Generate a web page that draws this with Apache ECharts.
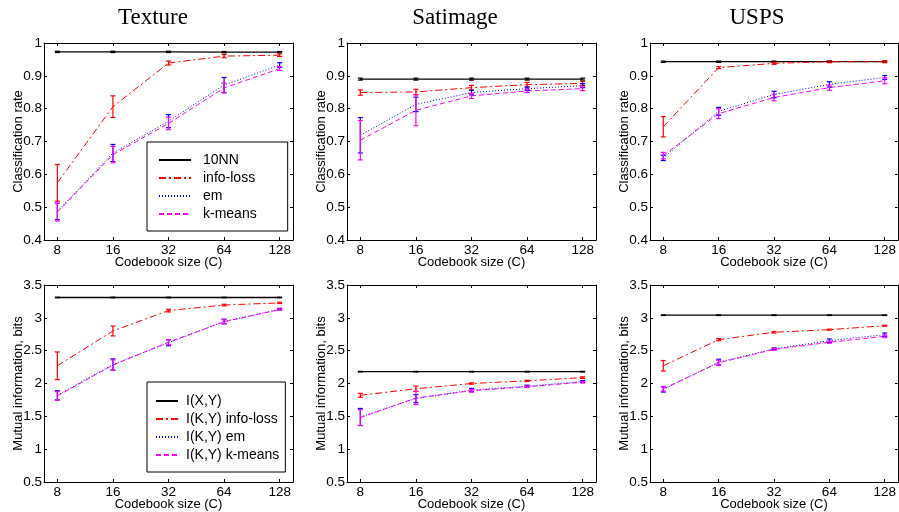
<!DOCTYPE html>
<html>
<head>
<meta charset="utf-8">
<script src="https://cdn.jsdelivr.net/npm/echarts@6/dist/echarts.min.js"></script>
<style>
  html, body { margin: 0; padding: 0; background: #fff; }
  #chart-container { width: 899px; height: 512px; }
</style>
</head>
<body>
<div id="chart-container"></div>
<script>
// codebook sizes (x axis, log2 spaced)
const codebookSizes = [8, 16, 32, 64, 128];

// --- classification rate ---
const texRate10nn = [0.973, 0.973, 0.973, 0.972, 0.972];
const texRate10nnErr = [0.002, 0.002, 0.002, 0.002, 0.002];
const texRateInfo = [0.574, 0.806, 0.939, 0.960, 0.963];
const texRateInfoErr = [0.056, 0.033, 0.006, 0.005, 0.004];
const texRateEm = [0.487, 0.665, 0.762, 0.872, 0.933];
const texRateEmErr = [0.025, 0.026, 0.020, 0.023, 0.007];
const texRateKm = [0.485, 0.660, 0.755, 0.863, 0.922];
const texRateKmErr = [0.027, 0.025, 0.019, 0.015, 0.006];

const satRate10nn = [0.890, 0.890, 0.890, 0.890, 0.890];
const satRate10nnErr = [0.003, 0.003, 0.003, 0.003, 0.003];
const satRateInfo = [0.849, 0.851, 0.864, 0.873, 0.877];
const satRateInfoErr = [0.008, 0.008, 0.007, 0.007, 0.006];
const satRateEm = [0.719, 0.813, 0.849, 0.861, 0.870];
const satRateEmErr = [0.054, 0.022, 0.007, 0.005, 0.006];
const satRateKm = [0.704, 0.795, 0.839, 0.854, 0.861];
const satRateKmErr = [0.060, 0.047, 0.008, 0.005, 0.006];

const uspsRate10nn = [0.943, 0.943, 0.943, 0.943, 0.943];
const uspsRate10nnErr = [0.002, 0.002, 0.002, 0.002, 0.002];
const uspsRateInfo = [0.745, 0.925, 0.938, 0.943, 0.943];
const uspsRateInfoErr = [0.031, 0.003, 0.003, 0.003, 0.003];
const uspsRateEm = [0.650, 0.792, 0.843, 0.874, 0.895];
const uspsRateEmErr = [0.008, 0.012, 0.010, 0.008, 0.006];
const uspsRateKm = [0.657, 0.785, 0.834, 0.864, 0.885];
const uspsRateKmErr = [0.010, 0.015, 0.010, 0.008, 0.009];

// --- mutual information ---
const texMiXY = [3.31, 3.31, 3.31, 3.31, 3.31];
const texMiXYErr = [0.005, 0.005, 0.005, 0.005, 0.005];
const texMiInfo = [2.27, 2.80, 3.11, 3.195, 3.228];
const texMiInfoErr = [0.21, 0.075, 0.02, 0.012, 0.01];
const texMiEm = [1.82, 2.29, 2.62, 2.945, 3.132];
const texMiEmErr = [0.07, 0.085, 0.045, 0.035, 0.012];
const texMiKm = [1.81, 2.28, 2.63, 2.94, 3.125];
const texMiKmErr = [0.065, 0.08, 0.04, 0.03, 0.01];

const satMiXY = [2.18, 2.18, 2.18, 2.18, 2.18];
const satMiXYErr = [0.005, 0.005, 0.005, 0.005, 0.005];
const satMiInfo = [1.82, 1.92, 2.00, 2.04, 2.09];
const satMiInfoErr = [0.03, 0.04, 0.01, 0.01, 0.012];
const satMiEm = [1.49, 1.77, 1.90, 1.96, 2.03];
const satMiEmErr = [0.13, 0.06, 0.025, 0.015, 0.015];
const satMiKm = [1.48, 1.78, 1.89, 1.95, 2.02];
const satMiKmErr = [0.12, 0.10, 0.02, 0.012, 0.012];

const uspsMiXY = [3.04, 3.04, 3.04, 3.04, 3.04];
const uspsMiXYErr = [0.005, 0.005, 0.005, 0.005, 0.005];
const uspsMiInfo = [2.27, 2.668, 2.78, 2.82, 2.88];
const uspsMiInfoErr = [0.08, 0.015, 0.012, 0.008, 0.008];
const uspsMiEm = [1.91, 2.325, 2.527, 2.653, 2.744];
const uspsMiEmErr = [0.04, 0.045, 0.015, 0.025, 0.025];
const uspsMiKm = [1.92, 2.315, 2.52, 2.628, 2.718];
const uspsMiKmErr = [0.035, 0.04, 0.015, 0.015, 0.02];

const titles = ['Texture', 'Satimage', 'USPS'];
const rateNames = ['10NN', 'info-loss', 'em', 'k-means'];
const miNames = ['I(X,Y)', 'I(K,Y) info-loss', 'I(K,Y) em', 'I(K,Y) k-means'];

const panels = [
  { means: [texRate10nn, texRateInfo, texRateEm, texRateKm], errs: [texRate10nnErr, texRateInfoErr, texRateEmErr, texRateKmErr], names: rateNames },
  { means: [satRate10nn, satRateInfo, satRateEm, satRateKm], errs: [satRate10nnErr, satRateInfoErr, satRateEmErr, satRateKmErr], names: rateNames },
  { means: [uspsRate10nn, uspsRateInfo, uspsRateEm, uspsRateKm], errs: [uspsRate10nnErr, uspsRateInfoErr, uspsRateEmErr, uspsRateKmErr], names: rateNames },
  { means: [texMiXY, texMiInfo, texMiEm, texMiKm], errs: [texMiXYErr, texMiInfoErr, texMiEmErr, texMiKmErr], names: miNames },
  { means: [satMiXY, satMiInfo, satMiEm, satMiKm], errs: [satMiXYErr, satMiInfoErr, satMiEmErr, satMiKmErr], names: miNames },
  { means: [uspsMiXY, uspsMiInfo, uspsMiEm, uspsMiKm], errs: [uspsMiXYErr, uspsMiInfoErr, uspsMiEmErr, uspsMiKmErr], names: miNames }
];

// layout (px): left, top, width, height
const boxes = [
  [44, 43, 249, 197], [347, 43, 249, 197], [650, 43, 251, 197],
  [44, 285, 249, 198], [347, 285, 249, 198], [650, 285, 251, 198]
];
const colors = ['#000000', '#ff0000', '#0000ff', '#ff00ff'];
const dashes = ['solid', [7, 3, 2, 3], [1, 2], [5, 3]];
const xTicks = codebookSizes.map(c => Math.log2(c));
const pad = 0.24;
const FONT = 'Liberation Sans, Arial, Helvetica, sans-serif';

const grid = [], xAxis = [], yAxis = [], series = [], legend = [], title = [];

panels.forEach((p, i) => {
  const b = boxes[i];
  const top = i < 3;
  grid.push({ left: b[0], top: b[1], width: b[2], height: b[3], show: false });
  const xBase = {
    gridIndex: i, type: 'value', min: xTicks[0] - pad, max: xTicks[4] + pad,
    axisLine: { show: true, onZero: false, lineStyle: { color: '#000', width: 1 } },
    splitLine: { show: false }
  };
  xAxis.push(Object.assign({}, xBase, {
    position: 'bottom',
    name: 'Codebook size (C)', nameLocation: 'middle', nameGap: 16, nameMoveOverlap: false,
    nameTextStyle: { fontFamily: FONT, fontSize: 13, color: '#000' },
    axisTick: { inside: true, length: 3, customValues: xTicks, lineStyle: { color: '#000' } },
    axisLabel: { customValues: xTicks, margin: 3, fontFamily: FONT, fontSize: 13.5, color: '#000',
      formatter: v => String(Math.round(Math.pow(2, v))) }
  }));
  xAxis.push(Object.assign({}, xBase, {
    position: 'top',
    axisTick: { inside: true, length: 3, customValues: xTicks, lineStyle: { color: '#000' } },
    axisLabel: { show: false }
  }));
  const yBase = {
    gridIndex: i, type: 'value',
    min: top ? 0.4 : 0.5, max: top ? 1 : 3.5, interval: top ? 0.1 : 0.5,
    axisLine: { show: true, lineStyle: { color: '#000', width: 1 } },
    axisTick: { inside: true, length: 3, lineStyle: { color: '#000' } },
    splitLine: { show: false }
  };
  yAxis.push(Object.assign({}, yBase, {
    position: 'left',
    name: top ? 'Classification rate' : 'Mutual information, bits',
    nameLocation: 'middle', nameGap: 19, nameMoveOverlap: false,
    nameTextStyle: { fontFamily: FONT, fontSize: 13, color: '#000' },
    axisLabel: { margin: 2, fontFamily: FONT, fontSize: 13.5, color: '#000' }
  }));
  yAxis.push(Object.assign({}, yBase, { position: 'right', axisLabel: { show: false } }));

  p.means.forEach((m, k) => {
    series.push({
      type: 'line', name: p.names[k], xAxisIndex: 2 * i, yAxisIndex: 2 * i,
      data: m.map((v, j) => [xTicks[j], v]),
      symbol: 'none', silent: true, z: 2 + k,
      lineStyle: { color: colors[k], width: k === 0 ? 1.3 : 1, type: dashes[k] },
      itemStyle: { color: colors[k] }
    });
  });
  p.means.forEach((m, k) => {
    const col = colors[k];
    series.push({
      type: 'custom', xAxisIndex: 2 * i, yAxisIndex: 2 * i, silent: true, z: 10 + k,
      data: m.map((v, j) => [xTicks[j], v - p.errs[k][j], v + p.errs[k][j]]),
      encode: { x: 0, y: [1, 2] },
      renderItem: (params, api) => {
        const lo = api.coord([api.value(0), api.value(1)]);
        const hi = api.coord([api.value(0), api.value(2)]);
        const w = 2.5;
        const st = { stroke: col, lineWidth: 1.2 };
        return {
          type: 'group', children: [
            { type: 'line', shape: { x1: lo[0], y1: lo[1], x2: hi[0], y2: hi[1] }, style: st },
            { type: 'line', shape: { x1: lo[0] - w, y1: lo[1], x2: lo[0] + w, y2: lo[1] }, style: st },
            { type: 'line', shape: { x1: hi[0] - w, y1: hi[1], x2: hi[0] + w, y2: hi[1] }, style: st }
          ]
        };
      }
    });
  });
});

title.push(
  { text: titles[0], left: 153, top: 6, textAlign: 'center' },
  { text: titles[1], left: 455, top: 6, textAlign: 'center' },
  { text: titles[2], left: 757, top: 6, textAlign: 'center' }
);
title.forEach(t => {
  t.textStyle = { fontFamily: 'Liberation Serif, Times New Roman, serif', fontSize: 23, fontWeight: 'normal', color: '#000' };
  t.padding = 0;
});

legend.push({
  data: rateNames, orient: 'vertical', left: 147, top: 142,
  backgroundColor: '#fff', borderColor: '#000', borderWidth: 1,
  padding: [11, 31, 10, 11], itemWidth: 32, itemHeight: 14, itemGap: 4,
  selectedMode: false, itemStyle: { opacity: 0 },
  textStyle: { fontFamily: FONT, fontSize: 14, color: '#000', lineHeight: 14, padding: [0, 0, 0, 7] }
});
legend.push({
  data: miNames, orient: 'vertical', left: 147, top: 382,
  backgroundColor: '#fff', borderColor: '#000', borderWidth: 1,
  padding: [12, 6, 10, 8], itemWidth: 22, itemHeight: 14, itemGap: 4,
  selectedMode: false, itemStyle: { opacity: 0 },
  textStyle: { fontFamily: FONT, fontSize: 14, color: '#000', lineHeight: 14, padding: [0, 0, 0, 3] }
});

const myChart = echarts.init(document.getElementById('chart-container'));
myChart.setOption({
  animation: false,
  backgroundColor: '#fff',
  title, grid, xAxis, yAxis, legend, series
});
</script>
</body>
</html>
